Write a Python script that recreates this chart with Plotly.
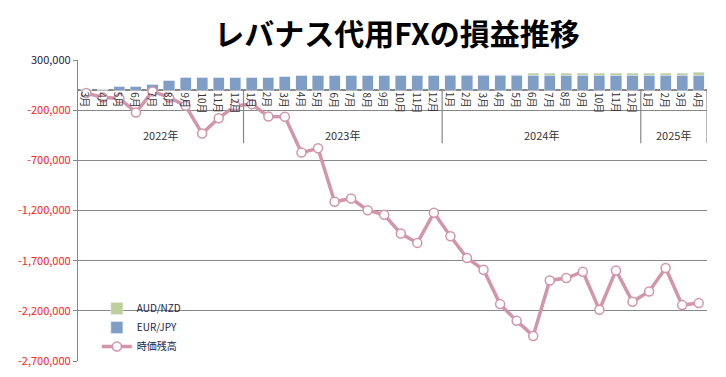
import plotly.graph_objects as go

years = [2022]*10 + [2023]*12 + [2024]*12 + [2025]*4
months = list(range(3, 13)) + list(range(1, 13)) + list(range(1, 13)) + list(range(1, 5))
categories = [f"{y}-{m:02d}" for y, m in zip(years, months)]
month_labels = [f"{m}月" for m in months]

eur_jpy = [10000, 10000, 37000, 37000, 57000, 97000, 127000, 127000, 127000, 127000,
           127000, 127000, 137000, 147000, 147000, 147000, 147000, 147000, 147000, 147000, 147000, 147000,
           150000, 150000, 150000, 150000, 150000, 150000, 150000, 150000, 150000, 150000, 150000, 150000,
           150000, 150000, 150000, 150000]
aud_nzd = [0]*10 + [0]*12 + \
          [5000, 5000, 5000, 5000, 5000, 18000, 18000, 18000, 18000, 18000, 18000, 18000,
           18000, 18000, 18000, 28000]
balance = [-30000, -73000, -80000, -223000, -13000, -73000, -157000, -433000, -280000, -157000,
           -140000, -263000, -265000, -623000, -580000, -1113000, -1080000, -1197000, -1243000, -1430000, -1523000, -1223000,
           -1457000, -1673000, -1790000, -2133000, -2300000, -2450000, -1897000, -1873000, -1810000, -2190000, -1797000, -2110000,
           -2007000, -1773000, -2143000, -2123000]

year_labels = ["2022年", "2023年", "2024年", "2025年"]
y_ticks = [300000, -200000, -700000, -1200000, -1700000, -2200000, -2700000]

font_family = "Noto Sans CJK JP, Noto Sans, sans-serif"

fig = go.Figure()
fig.add_trace(go.Bar(x=categories, y=eur_jpy, name="EUR/JPY", marker_color="#7F9EC6",
                     legendrank=2))
fig.add_trace(go.Bar(x=categories, y=aud_nzd, name="AUD/NZD", marker_color="#BED09A",
                     legendrank=1))
fig.add_trace(go.Scatter(x=categories, y=balance, name="時価残高", mode="lines+markers",
                         line=dict(color="#D295AA", width=3.5),
                         marker=dict(size=9, color="white", line=dict(color="#D295AA", width=1.5)),
                         legendrank=3))

# month labels
for c, lab in zip(categories, month_labels):
    fig.add_annotation(x=c, y=0, xref="x", yref="y", text=lab, textangle=90,
                       showarrow=False, xanchor="center", yanchor="top", yshift=0,
                       font=dict(size=10, color="#333333", family=font_family))

# year group labels and separators
idx = 0
group_bounds = []
for yl in year_labels:
    n = sum(1 for y in years if f"{y}年" == yl)
    center = idx + (n - 1) / 2
    fig.add_annotation(x=center, y=-445000, xref="x", yref="y", text=yl, showarrow=False,
                       font=dict(size=11, color="#333333", family=font_family))
    idx += n
    group_bounds.append(idx - 0.5)
for b in group_bounds:
    fig.add_shape(type="line", xref="x", yref="y", x0=b, x1=b, y0=0, y1=-530000,
                  line=dict(color="#888888", width=1.2))

ticktext = []
for v in y_ticks:
    s = f"{v:,}"
    if v < 0:
        ticktext.append(f"<span style='color:#FF2020'>{s}</span>")
    else:
        ticktext.append(s)

fig.update_layout(
    width=710, height=361,
    margin=dict(l=70, r=11, t=52, b=8),
    paper_bgcolor="white", plot_bgcolor="white",
    barmode="stack", bargap=0.33,
    title=dict(text="<b>レバナス代用FXの損益推移</b>", x=0.548, xanchor="center",
               y=0.9266, yanchor="middle",
               font=dict(size=30, color="black", family=font_family)),
    font=dict(family=font_family, size=11, color="#222222"),
    showlegend=True,
    legend=dict(x=0.03, y=0.0, xanchor="left", yanchor="bottom", bgcolor="rgba(0,0,0,0)",
                traceorder="normal",
                font=dict(size=10, color="#222244", family=font_family),
                tracegroupgap=0, itemwidth=30),
    xaxis=dict(type="category", showticklabels=False, showgrid=False, zeroline=False,
               showline=False, ticks="", automargin=False, range=[-0.5, len(categories) - 0.5]),
    yaxis=dict(range=[-2700000, 300000], tickvals=y_ticks, ticktext=ticktext, automargin=False,
               showgrid=True, gridcolor="#888888", gridwidth=1,
               zeroline=True, zerolinecolor="#888888", zerolinewidth=1.5,
               showline=True, linecolor="#888888", linewidth=1.2,
               ticks="outside", ticklen=4, tickcolor="#888888",
               tickfont=dict(size=11, color="#222244", family=font_family)),
)

fig.write_html("out.html")
